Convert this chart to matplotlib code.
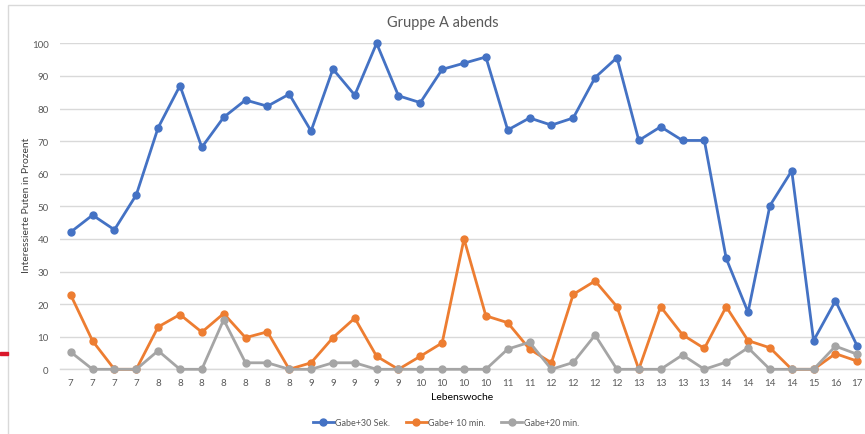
import numpy as np
import matplotlib
matplotlib.use("Agg")
import matplotlib.pyplot as plt
from matplotlib.patches import Rectangle

# Lebenswoche labels on the category axis
weeks = ["7", "7", "7", "7",
         "8", "8", "8", "8", "8", "8", "8",
         "9", "9", "9", "9", "9",
         "10", "10", "10", "10",
         "11", "11",
         "12", "12", "12", "12",
         "13", "13", "13", "13",
         "14", "14", "14", "14",
         "15", "16", "17"]

gabe_30s = [42.1, 47.3, 42.8, 53.5, 74.1, 87.0, 68.1, 77.3, 82.6, 80.7,
            84.4, 73.1, 92.1, 84.1, 100.0, 83.9, 81.8, 92.0, 93.9, 95.8,
            73.4, 77.1, 74.9, 77.1, 89.5, 95.6, 70.2, 74.4, 70.2, 70.2,
            34.0, 17.5, 50.2, 60.9, 8.8, 21.0, 7.1]

gabe_10min = [22.8, 8.7, 0, 0, 13.0, 16.8, 11.4, 17.1, 9.7, 11.5,
              0, 2.0, 9.7, 15.7, 4.0, 0, 4.0, 8.1, 40.0, 16.4,
              14.3, 6.2, 2.0, 23.0, 27.1, 19.2, 0, 19.2, 10.6, 6.4,
              19.2, 8.8, 6.6, 0, 0, 4.8, 2.5]

gabe_20min = [5.3, 0, 0, 0, 5.7, 0, 0, 15.2, 2.0, 2.0,
              0, 0, 2.0, 2.0, 0, 0, 0, 0, 0, 0,
              6.2, 8.3, 0, 2.1, 10.5, 0, 0, 0, 4.4, 0,
              2.2, 6.6, 0, 0, 0, 7.1, 4.6]

series = [("Gabe+30 Sek.", gabe_30s, "#4472C4"),
          ("Gabe+ 10 min.", gabe_10min, "#ED7D31"),
          ("Gabe+20 min.", gabe_20min, "#A5A5A5")]

W, H = 865, 435
fig = plt.figure(figsize=(W / 100, H / 100), dpi=100)
plt.rcParams['font.family'] = ['Lato', 'DejaVu Sans']

# chart frame and the small red mark on the left edge
fig.patches.append(Rectangle((8.3 / W, -0.1), 1.0, (H - 6) / H + 0.1,
                             transform=fig.transFigure, fill=False,
                             edgecolor="#d9d9d9", linewidth=1.0))
fig.patches.append(Rectangle((0, (H - 356) / H), 8 / W, 3 / H,
                             transform=fig.transFigure, color="#d9172a"))

left, right = 59.8, 865
top, bottom = 44.3, 370.3
ax = fig.add_axes([left / W, (H - bottom) / H, (right - left) / W, (bottom - top) / H])

x = np.arange(len(weeks))
step = 21.85
for name, vals, col in series:
    ax.plot(x, vals, color=col, linewidth=2.0, marker="o", markersize=5,
            label=name, clip_on=False, zorder=3)

ax.set_xlim(-0.5, (right - 70.7) / step)
ax.set_ylim(0, 100)
ax.set_yticks(np.arange(0, 101, 10))
ax.set_xticks(x)
ax.set_xticklabels(weeks)
ax.yaxis.grid(True, color="#d9d9d9", linewidth=1.0)
ax.set_axisbelow(True)
for s in ["top", "right", "left"]:
    ax.spines[s].set_visible(False)
ax.spines["bottom"].set_color("#d9d9d9")
ax.spines["bottom"].set_linewidth(1.0)
ax.tick_params(axis="both", length=0, labelsize=7, labelcolor="#595959", pad=6)
ax.tick_params(axis="y", pad=8)

ax.set_xlabel("Lebenswoche", fontsize=7.5, color="#000000", labelpad=4)
fig.text(27 / W, (H - 205) / H, "Interessierte Puten in Prozent", rotation=90,
         ha="center", va="center", fontsize=7.5, color="#404040")
fig.text(443 / W, (H - 23) / H, "Gruppe A abends", ha="center", va="center",
         fontsize=10.5, color="#595959")

fig.legend(loc="center", bbox_to_anchor=(446 / W, (H - 424) / H), ncol=3,
           frameon=False, fontsize=6.5, labelcolor="#595959",
           handlelength=2.3, handletextpad=0.2, columnspacing=1.7)

fig.savefig("out.png", dpi=100)
